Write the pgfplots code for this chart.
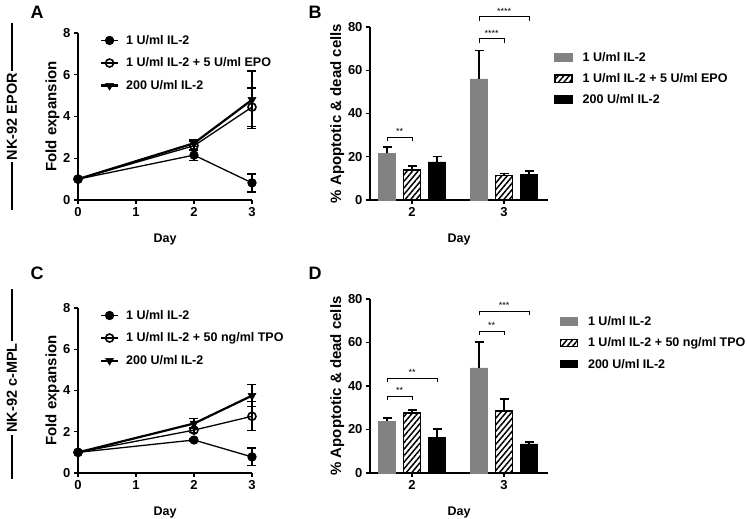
\documentclass[border=0pt]{standalone}
\usepackage{fontspec}
\setmainfont{Liberation Sans}
\usepackage{pgfplots}
\pgfplotsset{compat=1.18}
\usetikzlibrary{patterns.meta}

\definecolor{bargray}{RGB}{130,130,130}

\newcommand{\lab}{\fontsize{12.5}{14}\selectfont\bfseries}
\newcommand{\tlab}{\fontsize{13}{14}\selectfont\bfseries}
\newcommand{\ylab}{\fontsize{15}{16}\selectfont\bfseries}

\pgfplotsset{
  panel/.style={
    scale only axis, anchor=south west, clip=false,
    axis lines=left,
    axis line style={-, line width=1.6pt},
    tick style={line width=1.4pt, black},
    major tick length=4pt, tick align=outside,
    ticklabel style={font=\tlab},
    xlabel style={font=\lab, yshift=-10pt},
    ylabel style={font=\ylab},
    ylabel shift=-3pt,
    /pgf/number format/assume math mode=true,
    xlabel={Day},
  },
  linepanel/.style={panel, xmin=0, xmax=3, ymin=0, ymax=8,
    xtick={0,1,2,3}, ytick={0,2,4,6,8}, ylabel={Fold expansion},
    legend style={draw=none, fill=none, font=\lab, anchor=north west,
      at={(0.125,1.0)}, row sep=8pt, column sep=5pt, inner sep=0pt},
    legend cell align=left,
    error bars/error bar style={line width=1.3pt, black},
    error bars/error mark options={rotate=90, mark size=4.5pt, line width=1.3pt, black},
  },
  barpanel/.style={panel, xmin=1.543, xmax=3.478, ymin=0, ymax=80,
    xtick={2,3}, ytick={0,20,40,60,80}, ylabel={\% Apoptotic \& dead cells},
    legend style={draw=none, fill=none, font=\lab, anchor=north west,
      row sep=6.5pt, column sep=8pt, inner sep=0pt},
    legend cell align=left,
    error bars/error bar style={line width=1.4pt, black},
    error bars/error mark options={rotate=90, mark size=4.5pt, line width=1.4pt, black},
  },
  sw/.style={legend image code/.code={\draw[##1, line width=1.3pt] (0pt,-3.5pt) rectangle (17pt,4pt);}},
  bA/.style={ybar, bar width=0.185, bar shift=0, fill=bargray, draw=bargray, line width=0.5pt},
  bB/.style={ybar, bar width=0.185, bar shift=0, fill=white, draw=black, line width=1.4pt,
    postaction={pattern={Lines[angle=50, distance=4.2pt, line width=1.5pt]}, pattern color=black}},
  bC/.style={ybar, bar width=0.185, bar shift=0, fill=black, draw=black, line width=0.5pt},
  l1/.style={black, line width=1.3pt, mark=*, mark size=4pt},
  l2/.style={black, line width=1.3pt, mark=o, mark size=4pt, mark options={fill=white, line width=1.6pt}},
  l3/.style={black, line width=2.2pt, mark=triangle*, mark size=4.6pt, mark options={rotate=180, line width=0.5pt}},
}

\newcommand{\brk}[4]{% x1, x2, y, stars
  \draw[line width=0.9pt] (axis cs:#1,#3-1.8) -- (axis cs:#1,#3) -- (axis cs:#2,#3) -- (axis cs:#2,#3-1.8);
  \node[font=\fontsize{9}{9}\selectfont, anchor=south, inner sep=1pt] at (axis cs:{(#1+#2)/2},#3+0.6) {#4};
}

\begin{document}
\begin{tikzpicture}
\path[use as bounding box] (0pt,0pt) rectangle (747pt,519pt);

% Panel letters
\node[font=\fontsize{18}{18}\selectfont\bfseries] at (37pt,507pt) {A};
\node[font=\fontsize{18}{18}\selectfont\bfseries] at (315pt,507pt) {B};
\node[font=\fontsize{18}{18}\selectfont\bfseries] at (37pt,246pt) {C};
\node[font=\fontsize{18}{18}\selectfont\bfseries] at (315pt,246pt) {D};

% Row labels
\node[rotate=90, font=\fontsize{14.5}{15}\selectfont\bfseries, fill=white, inner sep=2pt] (r1) at (12pt,402.5pt) {NK-92 EPOR};
\draw[line width=1.2pt] (12pt,496pt) -- (r1.east);
\draw[line width=1.2pt] (12pt,309pt) -- (r1.west);
\node[rotate=90, font=\fontsize{14.5}{15}\selectfont\bfseries, fill=white, inner sep=2pt] (r2) at (12pt,131pt) {NK-92 c-MPL};
\draw[line width=1.2pt] (12pt,230pt) -- (r2.east);
\draw[line width=1.2pt] (12pt,40pt) -- (r2.west);

% A
\begin{axis}[linepanel, at={(78pt,319pt)}, width=174pt, height=167pt]
\addplot[l1, error bars/.cd, y dir=both, y explicit] coordinates {
  (0,1.0) +- (0,0) (2,2.15) +- (0,0.25) (3,0.82) +- (0,0.43)};
\addlegendentry{1 U/ml IL-2}
\addplot[l2, error bars/.cd, y dir=both, y explicit] coordinates {
  (0,1.0) +- (0,0) (2,2.6) +- (0,0.2) (3,4.45) +- (0,0.92)};
\addlegendentry{1 U/ml IL-2 + 5 U/ml EPO}
\addplot[l3, error bars/.cd, y dir=both, y explicit] coordinates {
  (0,1.0) +- (0,0) (2,2.72) +- (0,0.15) (3,4.8) +- (0,1.38)};
\addlegendentry{200 U/ml IL-2}
\end{axis}

% B
\begin{axis}[barpanel, at={(370pt,319pt)}, width=178pt, height=173pt,
  legend style={at={(1.035,0.865)}}]
\addplot[bA, sw, error bars/.cd, y dir=plus, y explicit] coordinates {
  (1.728,21.7) +- (0,2.8) (2.728,56) +- (0,13)};
\addlegendentry{1 U/ml IL-2}
\addplot[bB, sw, error bars/.cd, y dir=plus, y explicit] coordinates {
  (2,13.9) +- (0,1.8) (3,11.3) +- (0,1.0)};
\addlegendentry{1 U/ml IL-2 + 5 U/ml EPO}
\addplot[bC, sw, error bars/.cd, y dir=plus, y explicit] coordinates {
  (2.272,17.6) +- (0,2.4) (3.272,11.9) +- (0,1.5)};
\addlegendentry{200 U/ml IL-2}
\brk{1.728}{2.0}{29}{**}
\brk{2.728}{3.0}{74.5}{****}
\brk{2.728}{3.272}{84.7}{****}
\end{axis}

% C
\begin{axis}[linepanel, at={(78pt,46pt)}, width=174pt, height=165pt]
\addplot[l1, error bars/.cd, y dir=both, y explicit] coordinates {
  (0,1.0) +- (0,0) (2,1.6) +- (0,0.05) (3,0.78) +- (0,0.43)};
\addlegendentry{1 U/ml IL-2}
\addplot[l2, error bars/.cd, y dir=both, y explicit] coordinates {
  (0,1.0) +- (0,0) (2,2.08) +- (0,0.1) (3,2.75) +- (0,0.7)};
\addlegendentry{1 U/ml IL-2 + 50 ng/ml TPO}
\addplot[l3, error bars/.cd, y dir=both, y explicit] coordinates {
  (0,1.0) +- (0,0) (2,2.4) +- (0,0.25) (3,3.75) +- (0,0.53)};
\addlegendentry{200 U/ml IL-2}
\end{axis}

% D
\begin{axis}[barpanel, at={(370pt,46pt)}, width=178pt, height=174pt,
  legend style={at={(1.065,0.91), row sep=8.5pt}}]
\addplot[bA, sw, error bars/.cd, y dir=plus, y explicit] coordinates {
  (1.728,23.9) +- (0,1.4) (2.728,48.3) +- (0,11.9)};
\addlegendentry{1 U/ml IL-2}
\addplot[bB, sw, error bars/.cd, y dir=plus, y explicit] coordinates {
  (2,27.6) +- (0,1.4) (3,28.5) +- (0,5.5)};
\addlegendentry{1 U/ml IL-2 + 50 ng/ml TPO}
\addplot[bC, sw, error bars/.cd, y dir=plus, y explicit] coordinates {
  (2.272,16.5) +- (0,3.7) (3.272,13.4) +- (0,0.9)};
\addlegendentry{200 U/ml IL-2}
\brk{1.728}{2.0}{35.4}{**}
\brk{1.728}{2.272}{43.7}{**}
\brk{2.728}{3.0}{65.3}{**}
\brk{2.728}{3.272}{74.5}{***}
\end{axis}
\end{tikzpicture}
\end{document}
